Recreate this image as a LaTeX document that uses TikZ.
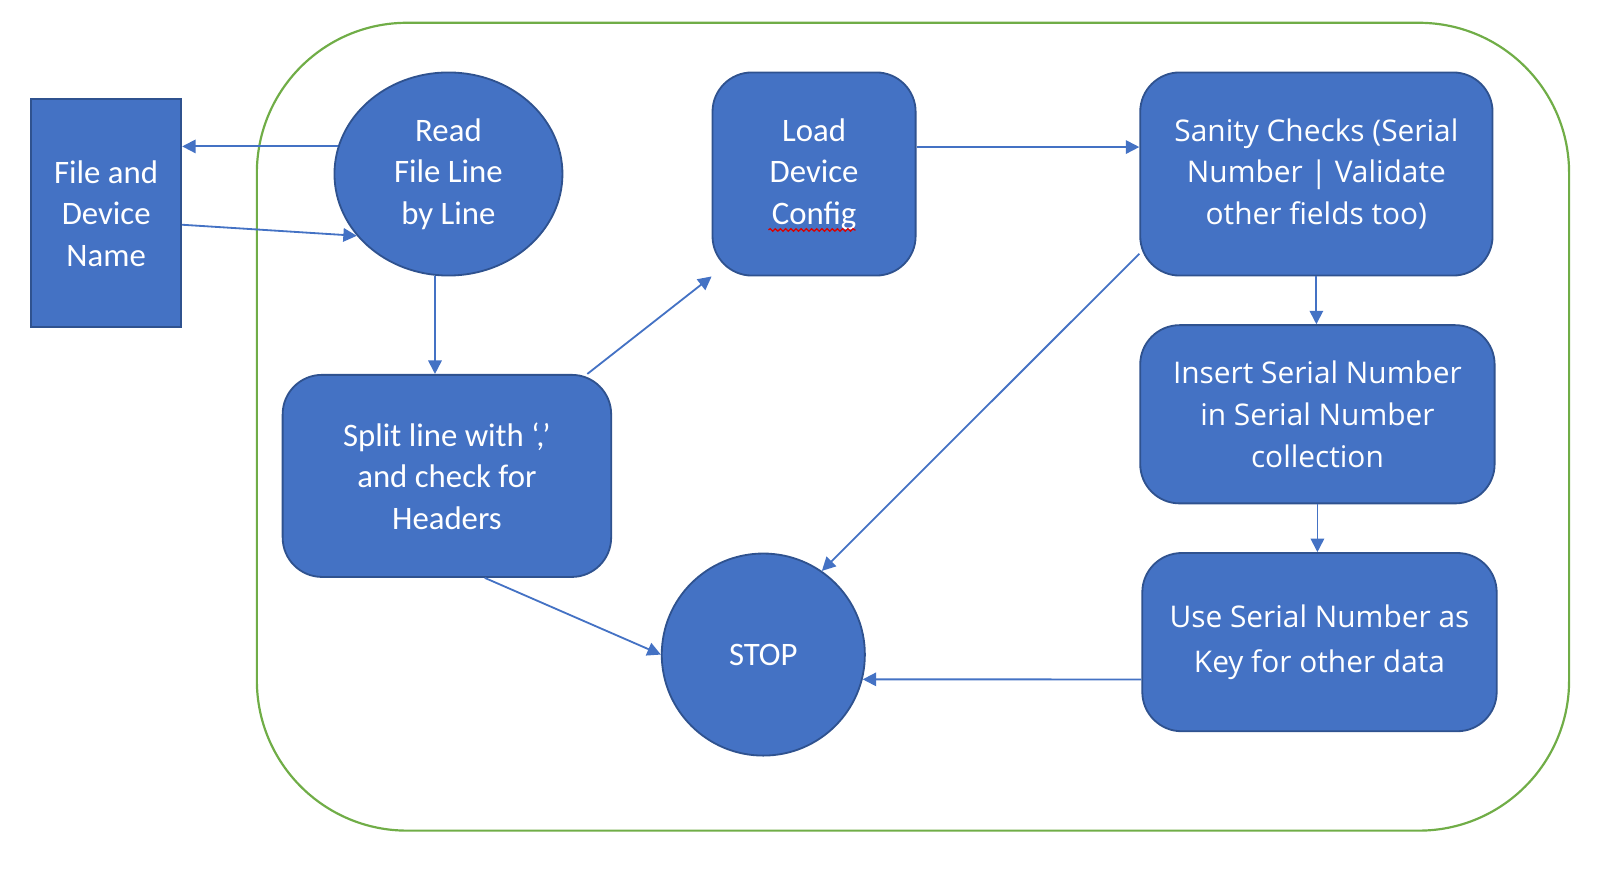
\documentclass[tikz,border=0pt]{standalone}
\usepackage{fontspec}
\setmainfont{Carlito}
\newfontfamily\widefont{Open Sans}
\usetikzlibrary{shapes.geometric,arrows.meta,decorations.pathmorphing}
\definecolor{officeblue}{HTML}{4472C4}
\definecolor{officeedge}{HTML}{2F528F}
\definecolor{officegreen}{HTML}{70AD47}

\begin{document}
\begin{tikzpicture}[
                x=0.01cm, y=-0.01cm,
                every node/.style={
                        draw=officeedge,
                        fill=officeblue,
                        text=white,
                        align=center,
                        inner sep=0pt,
                        line width=0.5pt,
                        font=\fontsize{9}{11.4}\selectfont
                    },
                stepbox/.style={rectangle, rounded corners=0.38cm},
                bubble/.style={ellipse},
                widetext/.style={font=\widefont\fontsize{8.2}{11.4}\selectfont},
                link/.style={draw=officeblue, line width=0.5pt, -{Triangle[length=1.3mm,width=1.3mm]}}
            ]
            \useasboundingbox (0,0) rectangle (1568,852);

            % Moldura verde em volta do processo
            \draw[officegreen, line width=0.6pt, rounded corners=1.45cm] (248,22) rectangle (1515,802);

            % Nós principais posicionados manualmente
            \node[rectangle, minimum width=1.45cm, minimum height=2.2cm] (file) at (102.5,206) {File and\\Device\\Name};
            \node[bubble, minimum width=2.2cm, minimum height=1.96cm] (read) at (433,168) {Read\\File Line\\by Line};
            \node[stepbox, minimum width=1.96cm, minimum height=1.96cm] (load) at (786,168) {Load\\Device\\Config};
            \node[stepbox, widetext, minimum width=3.4cm, minimum height=1.96cm] (sanity) at (1271,168) {Sanity Checks (Serial\\Number | Validate\\other fields too)};
            \node[stepbox, widetext, minimum width=3.42cm, minimum height=1.72cm] (insert) at (1272,400) {Insert Serial Number\\in Serial Number\\collection};
            \node[stepbox, widetext, minimum width=3.42cm, minimum height=1.72cm] (use) at (1274,620) {Use Serial Number as\\[1pt]Key for other data};
            \node[stepbox, minimum width=3.17cm, minimum height=1.95cm] (split) at (431.5,459.5) {Split line with ‘,’\\and check for\\Headers};
            \node[bubble, minimum width=1.96cm, minimum height=1.95cm] (stop) at (737,632) {STOP};

            % Sublinhado ondulado sob "Config"
            \draw[red!85!black, line width=0.35pt, decorate, decoration={snake, segment length=0.05cm, amplitude=0.012cm}]
                ([xshift=-0.44cm,yshift=-0.54cm]load.center) -- ([xshift=0.40cm,yshift=-0.54cm]load.center);

            % Setas
            \draw[link] (read.166) -- (read.166 -| file.east);
            \draw[link] ([yshift=-0.11cm]file.east) -- (read.214.6);
            \draw[link] ([xshift=-0.13cm]read.south) -- ([xshift=-0.13cm]read.south |- split.north);
            \draw[link] ([xshift=1.355cm]split.north) -- (load.south west);
            \draw[link] ([yshift=0.26cm]load.east) -- ([yshift=0.26cm]load.east -| sanity.west);
            \draw[link] ([yshift=-0.77cm]sanity.west) -- (stop.55);
            \draw[link] (sanity.south) -- (sanity.south |- insert.north);
            \draw[link] (insert.south) -- (insert.south |- use.north);
            \draw[link] ([yshift=-0.36cm]use.west) -- (stop.-14);
            \draw[link] ([xshift=0.365cm]split.south) -- (stop.west);

        \end{tikzpicture}
\end{document}
